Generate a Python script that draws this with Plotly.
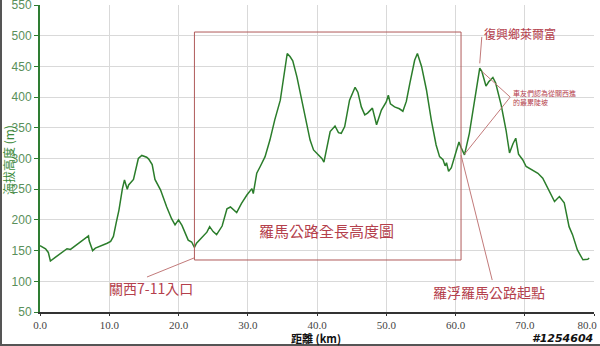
import plotly.graph_objects as go

dist_km = [0.0, 0.4, 0.8, 1.2, 1.5, 2.2, 3.0, 3.9, 4.4, 5.1, 6.0, 7.0, 7.1, 7.6, 8.0, 9.0, 9.7, 10.2, 10.6, 11.0,
           11.4, 11.9, 12.2, 12.6, 12.8, 13.5, 14.2, 14.7, 15.4, 15.7, 15.9, 16.2, 16.6, 17.4, 18.3, 19.0, 19.5,
           20.0, 20.5, 21.0, 21.4, 21.9, 22.3, 22.6, 23.4, 24.1, 24.5, 25.0, 25.5, 26.3, 27.0, 27.5, 28.4, 29.1,
           29.9, 30.6, 30.8, 31.3, 31.8, 32.5, 33.2, 33.9, 34.7, 35.4, 35.7, 36.1, 36.5, 37.1, 37.8, 38.5, 39.0,
           39.5, 40.2, 40.7, 41.0, 41.4, 41.9, 42.6, 43.1, 43.5, 44.0, 44.7, 45.5, 45.9, 46.4, 46.9, 47.3, 48.0,
           48.6, 49.3, 50.0, 50.3, 50.6, 51.2, 51.9, 52.4, 52.9, 53.4, 54.1, 54.5, 55.1, 55.8, 56.5, 57.2, 57.7,
           58.2, 58.5, 58.7, 59.0, 59.4, 59.9, 60.5, 60.8, 61.3, 62.0, 62.8, 63.5, 63.8, 64.4, 64.8, 65.4, 65.8,
           66.6, 67.3, 67.8, 68.3, 68.7, 69.1, 69.7, 70.2, 70.9, 71.9, 72.6, 73.6, 74.3, 75.0, 75.7, 76.4, 76.9,
           77.6, 78.4, 79.1, 79.3]
elev_m = [158, 156, 153, 147, 133, 139, 146, 153, 152, 158, 165, 174, 166, 150, 154, 158, 162, 165, 173, 195,
          216, 251, 265, 250, 257, 266, 300, 305, 302, 299, 295, 290, 266, 249, 221, 202, 192,
          200, 191, 178, 167, 164, 155, 162, 172, 180, 189, 181, 176, 190, 218, 221, 212, 227,
          241, 251, 243, 276, 287, 303, 330, 363, 395, 444, 471, 466, 459, 433, 395, 352, 330,
          314, 306, 300, 294, 314, 344, 353, 342, 341, 352, 395, 416, 408, 384, 371, 374, 382,
          355, 379, 392, 403, 389, 384, 381, 377, 393, 422, 460, 471, 450, 412, 363, 322, 303,
          298, 288, 293, 279, 285, 303, 327, 318, 306, 341, 395, 447, 442, 418, 425, 432, 423,
          387, 346, 309, 324, 333, 307, 298, 287, 282, 276, 268, 246, 230, 238, 228, 189, 176,
          151, 135, 136, 138]

x_ticks = [0, 10, 20, 30, 40, 50, 60, 70, 80]
x_tick_labels = ["0.0", "10.0", "20.0", "30.0", "40.0", "50.0", "60.0", "70.0",
                 "80.0\u00a0\u00a0\u00a0\u00a0\u00a0"]
y_ticks = [50, 100, 150, 200, 250, 300, 350, 400, 450, 500, 550]

title_main = "羅馬公路全長高度圖"
label_start = "關西7-11入口"
label_road = "羅浮羅馬公路起點"
label_store = "復興鄉萊爾富"
label_slope = "車友們認為從關西進<br>的最累陡坡"
x_title = "距離 (km)"
y_title = "海拔高度 (m)"
watermark = "#1254604"

RED = "#b4404c"
LINE_RED = "#c27a7a"
CJK = "Noto Sans CJK TC"

fig = go.Figure()
fig.add_trace(go.Scatter(x=dist_km, y=elev_m, mode="lines",
                         line=dict(color="#2b7d2b", width=1.5), hoverinfo="skip"))

shapes = [
    dict(type="rect", xref="x", yref="y", x0=22.3, x1=60.8, y0=134.7, y1=506,
         line=dict(color="#b05a5a", width=1)),
    dict(type="line", xref="x", yref="y", x0=15.45, y0=107, x1=22.24, y1=138,
         line=dict(color=LINE_RED, width=1)),
    dict(type="line", xref="x", yref="y", x0=65.3, y0=102, x1=60.8, y1=305.7,
         line=dict(color=LINE_RED, width=1)),
    dict(type="line", xref="x", yref="y", x0=63.8, y0=498, x1=63.5, y1=455,
         line=dict(color=LINE_RED, width=1)),
    dict(type="line", xref="x", yref="y", x0=67.9, y0=400, x1=63.8, y1=442,
         line=dict(color=LINE_RED, width=1)),
    dict(type="line", xref="x", yref="y", x0=67.9, y0=400, x1=61.3, y1=307,
         line=dict(color=LINE_RED, width=1)),
    # outer frame (left, bottom)
    dict(type="line", xref="paper", yref="paper", x0=-0.0704, x1=-0.0704, y0=-0.108, y1=1.02,
         line=dict(color="#555555", width=2)),
    dict(type="line", xref="paper", yref="paper", x0=-0.0722, x1=1.0108, y0=-0.1075, y1=-0.1075,
         line=dict(color="#555555", width=2)),
]

annotations = [
    dict(x=41.3, y=182, xref="x", yref="y", text=title_main, showarrow=False,
         xanchor="center", yanchor="middle",
         font=dict(family=CJK, size=15, color=RED)),
    dict(x=16.0, y=89, xref="x", yref="y", text=label_start, showarrow=False,
         xanchor="center", yanchor="middle",
         font=dict(family=CJK, size=14, color=RED)),
    dict(x=64.8, y=82.6, xref="x", yref="y", text=label_road, showarrow=False,
         xanchor="center", yanchor="middle",
         font=dict(family=CJK, size=14, color=RED)),
    dict(x=69.3, y=503, xref="x", yref="y", text=label_store, showarrow=False,
         xanchor="center", yanchor="middle",
         font=dict(family=CJK, size=12, color=RED)),
    dict(x=68.0, y=399, xref="x", yref="y", text=label_slope, showarrow=False,
         xanchor="left", yanchor="middle", align="left",
         font=dict(family=CJK, size=7, color=RED)),
    dict(x=0.498, y=-0.0863, xref="paper", yref="paper", text="<b>" + x_title + "</b>", showarrow=False,
         xanchor="center", yanchor="middle",
         font=dict(family=CJK, size=11, color="#111111")),
    dict(x=-0.0578, y=0.495, xref="paper", yref="paper", text=y_title, showarrow=False, textangle=-90,
         xanchor="center", yanchor="middle",
         font=dict(family=CJK, size=12, color="#3a8a3a")),
    dict(x=1.002, y=-0.0863, xref="paper", yref="paper", text="<b><i>" + watermark + "</i></b>",
         showarrow=False, xanchor="right", yanchor="middle",
         font=dict(family="DejaVu Sans", size=11, color="#111111")),
]

fig.update_layout(
    width=600, height=346,
    margin=dict(l=40, r=6, t=5, b=34, autoexpand=False),
    paper_bgcolor="white", plot_bgcolor="white",
    showlegend=False,
    shapes=shapes, annotations=annotations,
    xaxis=dict(range=[0, 80], tickvals=x_ticks, ticktext=x_tick_labels,
               showgrid=True, gridcolor="#d9d9d9", gridwidth=1, zeroline=False,
               showline=True, linecolor="#333333", linewidth=2,
               ticks="outside", ticklen=2, tickcolor="#333333",
               automargin=False, ticklabeloverflow="allow",
               tickfont=dict(family="Liberation Serif", size=11, color="#444444")),
    yaxis=dict(range=[50, 550], tickvals=y_ticks,
               showgrid=True, gridcolor="#d9d9d9", gridwidth=1, zeroline=False,
               showline=True, linecolor="#2e7d32", linewidth=2,
               ticks="outside", ticklen=4, tickcolor="#2e7d32",
               automargin=False, ticklabeloverflow="allow",
               tickfont=dict(family="Liberation Sans", size=12, color="#5a8f5a")),
)

fig.write_html("out.html")
